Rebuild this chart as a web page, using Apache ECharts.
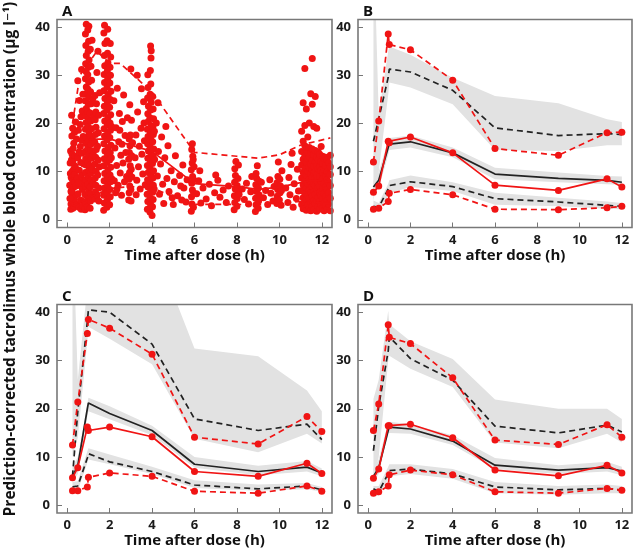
<!DOCTYPE html>
<html><head><meta charset="utf-8">
<script src="https://cdn.jsdelivr.net/npm/echarts@6/dist/echarts.min.js"></script>
<style>html,body{margin:0;padding:0;background:#fff}#c{width:634px;height:555px}</style>
</head><body><div id="c"></div>
<script>
// ---------- data ----------
const xTicks = [0, 2, 4, 6, 8, 10, 12];
const yTicks = [0, 10, 20, 30, 40];
const times = [0.25, 0.5, 0.95, 1.0, 2, 4, 6, 9, 11.3, 12];

// Panel B (observed red / simulated black / CI bands)
const bObsUp  = [12.0, 20.5, 38.6, 36.4, 35.3, 29.0, 14.8, 13.4, 18.1, 18.2];
const bObsMed = [5.7, 7.0, 16.3, 16.0, 17.2, 13.9, 7.2, 6.1, 8.5, 6.8];
const bObsLo  = [2.2, 2.4, 3.8, 5.5, 6.3, 5.2, 2.2, 2.1, 2.5, 2.8];
const bSimUp  = [16.3, 21.0, 29.6, 31.3, 30.7, 26.9, 19.1, 17.5, 17.9, 17.7];
const bSimMed = [6.8, 8.2, 15.0, 15.7, 16.2, 13.9, 9.5, 8.6, 8.2, 7.8];
const bSimLo  = [2.8, 2.6, 6.4, 7.1, 7.9, 6.9, 4.4, 3.7, 3.0, 2.8];
const bUpBandLo  = [4, 10, 26, 28.5, 27.5, 24, 14.5, 14.3, 15.5, 15.5];
const bUpBandHi  = [60, 22, 35, 36, 34.3, 29.5, 25.7, 24.2, 20.9, 20.3];
const bMedBandLo = [5.5, 6.5, 13.5, 14.5, 15, 13, 8.4, 7.8, 7.4, 7.3];
const bMedBandHi = [8, 10, 16.5, 17, 17.5, 15, 10.8, 9.8, 9.1, 9.0];
const bLoBandLo  = [1.8, 1.8, 5, 5.5, 6.8, 6, 3.1, 2.8, 2.3, 2.2];
const bLoBandHi  = [4, 3.5, 7.5, 8.2, 9.2, 7.8, 5.6, 4.6, 3.8, 3.5];

// Panel C
const cObsUp  = [12.5, 21.4, 35.6, 38.5, 36.7, 31.3, 14.1, 12.7, 18.4, 15.3];
const cObsMed = [5.7, 7.8, 16.2, 15.5, 16.2, 14.2, 7.0, 6.0, 8.7, 6.6];
const cObsLo  = [3.0, 3.0, 3.8, 5.8, 6.7, 6.0, 2.9, 2.5, 4.0, 2.9];
const cSimUp  = [6.0, 19.5, 38.0, 40.5, 40.0, 33.4, 17.9, 15.5, 16.8, 13.6];
const cSimMed = [6.0, 8.2, 20.0, 21.2, 19.0, 15.5, 8.5, 7.0, 7.9, 6.7];
const cSimLo  = [3.8, 4.0, 9.8, 10.7, 9.0, 7.0, 4.2, 3.4, 4.0, 3.2];
const cUpBandLo  = [10, 14, 34, 37, 34.5, 29.2, 13.8, 11, 14.8, 12.8];
const cUpBandHi  = [60, 26, 45, 50, 52, 55, 32.5, 30.9, 23.8, 19.5];
const cMedBandLo = [5, 6.5, 18.5, 19.5, 17.8, 14.5, 7.8, 6.2, 7.0, 6.0];
const cMedBandHi = [8, 10, 21, 22.3, 20.5, 16.5, 10, 8.2, 9.2, 7.6];
const cLoBandLo  = [3, 3, 8.8, 9.5, 8.5, 6.5, 3.6, 3, 3.3, 2.8];
const cLoBandHi  = [4.8, 5, 11.2, 11.8, 10.5, 8, 5.2, 4.3, 4.6, 3.8];

// Panel D
const dObsUp  = [15.5, 21.0, 37.4, 34.8, 33.5, 26.4, 13.5, 12.6, 16.7, 14.1];
const dObsMed = [5.6, 7.5, 16.5, 16.5, 16.8, 14.0, 7.3, 6.1, 8.3, 6.7];
const dObsLo  = [2.5, 2.8, 4.0, 6.3, 7.3, 6.3, 2.8, 2.5, 3.5, 3.1];
const dSimUp  = [11.3, 20.5, 32.0, 34.9, 30.4, 25.9, 16.4, 15.0, 16.6, 15.2];
const dSimMed = [6.0, 7.8, 15.5, 16.2, 15.8, 13.3, 8.3, 7.3, 7.8, 7.1];
const dSimLo  = [3.4, 2.8, 6.6, 7.2, 7.5, 6.5, 3.8, 3.2, 3.5, 3.1];
const dUpBandLo  = [5.5, 10, 30, 31, 28.3, 24.5, 13.0, 11.8, 14.8, 13.0];
const dUpBandHi  = [22, 26, 40.3, 37.5, 34, 30.3, 21.9, 20, 20, 17.9];
const dMedBandLo = [5, 6.5, 15, 15, 14.8, 12.5, 7.5, 6.5, 7.0, 6.2];
const dMedBandHi = [7.5, 9.5, 17.3, 17.3, 16.8, 14.5, 9.8, 8.3, 9.0, 8.0];
const dLoBandLo  = [2, 2, 5.5, 6, 6.5, 5.5, 2.5, 2.2, 2.5, 2.5];
const dLoBandHi  = [4, 4, 8, 8.5, 8.5, 7.5, 4.8, 4, 4.3, 4];

// Panel A percentile lines
const aMedT = [1, 2, 3, 4, 6, 8, 9, 10, 11.5, 12.4];
const aMed  = [16.7, 16.8, 15.5, 14.2, 7.5, 6.9, 6.3, 6.8, 8.2, 8.0];
const aUpT  = [0.25, 0.6, 1.4, 2, 2.5, 4, 6, 8, 9, 10, 11, 12.4];
const aUp   = [20, 30, 35, 32.5, 32.5, 26.5, 14, 13.2, 12.8, 13.5, 15.5, 17];
const aLoT  = [0.25, 1, 2, 3, 4, 5, 6, 8, 9, 10, 11, 12.4];
const aLo   = [2.8, 4.5, 6.5, 6.9, 6.6, 4.8, 3.2, 3.2, 3.1, 3.5, 3.8, 3.4];

// Panel A observations [time, conc]
const obsEarly = [[0.12,7.2],[0.14,11.8],[0.15,9.6],[0.16,14.3],[0.17,2.2],[0.18,3.3],[0.19,8.8],[0.2,12.4],[0.2,6.1],[0.21,21.7],[0.22,5.6],[0.23,13.6],[0.24,10.1],[0.25,8.3],[0.26,4.8],[0.27,2.4],[0.28,14.8],[0.29,9.1],[0.3,6.7],[0.3,2.9],[0.31,15.9],[0.32,10.6],[0.33,3.5],[0.34,4.2],[0.35,18.2],[0.36,7.8],[0.37,13.2],[0.38,11.1],[0.4,20.3],[0.42,5.2],[0.44,16.8],[0.13,4.4],[0.22,17.4],[0.27,12.0],[0.35,9.4],[0.41,7.0],[0.18,5.9],[0.26,19.0],
[0.46,3.2],[0.48,8.6],[0.5,12.9],[0.5,28.9],[0.52,5.4],[0.53,18.6],[0.55,2.6],[0.56,14.1],[0.57,10.3],[0.58,24.8],[0.6,7.1],[0.61,19.8],[0.62,15.2],[0.63,4.1],[0.65,21.4],[0.66,2.2],[0.67,9.2],[0.68,31.2],[0.7,13.8],[0.71,22.6],[0.72,6.3],[0.74,26.1],[0.75,17.3],[0.76,8.1],[0.77,3.8],[0.78,11.6],[0.54,7.7],[0.64,11.9],[0.73,2.9],[0.69,16.5]];
const obs1h = [[0.84,2.1],[0.86,3.6],[0.85,5.2],[0.87,6.9],[0.88,8.3],[0.86,9.8],[0.89,11.4],[0.87,12.7],[0.85,14.2],[0.88,15.9],[0.9,17.1],[0.86,18.8],[0.89,20.2],[0.87,21.6],[0.9,23.1],[0.85,24.7],[0.88,26.2],[0.9,27.6],[0.86,29.3],[0.89,30.8],[0.87,32.4],[0.9,34.1],[0.88,36.2],[0.86,38.6],[0.9,40.6],
[0.96,2.7],[0.99,4.3],[1.01,5.8],[0.97,7.4],[1.0,8.9],[1.02,10.3],[0.98,11.9],[1.01,13.4],[0.97,14.9],[1.0,16.4],[1.03,17.9],[0.98,19.4],[1.01,20.9],[0.96,22.5],[1.0,24.0],[1.02,25.4],[0.98,27.1],[1.01,28.6],[0.97,30.1],[1.0,31.7],[1.03,33.2],[0.99,35.0],[1.01,37.1],[0.97,39.4],[1.02,40.2],
[1.08,2.4],[1.1,3.9],[1.12,5.4],[1.09,6.8],[1.13,8.2],[1.11,9.7],[1.08,11.2],[1.14,12.8],[1.1,14.4],[1.12,15.7],[1.09,17.4],[1.15,18.9],[1.11,20.5],[1.08,22.2],[1.13,24.1],[1.1,26.6],[1.15,29.0],[1.12,31.9],[1.09,35.4],[1.2,4.6],[1.22,7.6],[1.18,10.5],[1.23,13.5],[1.19,16.6],[1.24,21.3],[1.21,25.2],[1.17,37.3],
[1.3,4.3],[1.33,5.8],[1.35,7.2],[1.32,8.7],[1.36,10.1],[1.31,11.6],[1.34,13.0],[1.37,14.6],[1.3,16.1],[1.33,17.7],[1.36,19.2],[1.32,20.8],[1.35,22.4],[1.38,24.1],[1.31,25.8],[1.45,35.0],[1.42,5.1],[1.44,9.3],[1.46,12.4],[1.43,15.3],[1.47,18.1],[1.5,6.6],[1.52,11.0],[1.49,3.9],[1.53,26.4],[1.4,30.6],[1.48,21.7]];
const obs2h = [[1.72,2.0],[1.75,3.5],[1.73,5.1],[1.76,6.6],[1.74,8.1],[1.77,9.6],[1.72,11.2],[1.75,12.7],[1.78,14.3],[1.73,15.8],[1.76,17.4],[1.74,18.9],[1.77,20.5],[1.72,22.1],[1.75,23.6],[1.78,25.2],[1.73,26.8],[1.76,28.5],[1.74,30.2],[1.77,32.0],[1.75,34.1],[1.78,36.6],[1.73,38.8],[1.76,40.4],
[1.87,2.6],[1.9,4.2],[1.88,5.7],[1.91,7.3],[1.89,8.8],[1.92,10.4],[1.87,11.9],[1.9,13.5],[1.93,15.0],[1.88,16.6],[1.91,18.1],[1.89,19.7],[1.92,21.2],[1.87,22.8],[1.9,24.4],[1.93,26.0],[1.88,27.6],[1.91,29.3],[1.89,30.9],[1.92,32.6],[1.9,34.6],[1.88,37.2],[1.91,39.6],
[2.0,3.1],[2.03,4.8],[2.01,6.3],[2.04,7.9],[2.02,9.3],[2.05,10.9],[2.0,12.4],[2.03,14.0],[2.06,15.5],[2.01,17.1],[2.04,18.6],[2.02,20.1],[2.05,21.8],[2.0,23.4],[2.03,25.0],[2.06,26.7],[2.01,28.4],[2.04,30.0],[2.02,31.7],[2.05,33.8],[2.03,36.6],[2.08,12.9],[2.09,19.4],[2.1,8.5],
[2.2,24.7],[2.22,8.1],[2.25,14.9],[2.28,5.6],[2.3,19.1],[2.33,11.3],[2.36,27.3],[2.4,7.2],[2.43,16.2],[2.46,22.1],[2.5,9.7],[2.53,13.4],[2.56,5.1],[2.6,20.4],[2.63,11.8],[2.66,25.9],[2.7,7.9],[2.73,17.5],[2.76,14.0],[2.8,9.0],[2.84,21.2],[2.35,6.4],[2.58,15.7],[2.48,18.6],
[2.9,4.1],[2.92,5.6],[2.95,7.0],[2.91,8.4],[2.94,9.8],[2.97,11.2],[2.9,12.6],[2.93,14.0],[2.96,15.4],[2.92,16.8],[2.98,17.6],[3.0,6.3],[3.02,10.5],[3.04,13.3],[3.01,3.9],[3.05,8.9],[2.95,23.9],[3.0,31.3],[3.03,20.7],[3.08,16.0],
[3.2,12.9],[3.24,17.6],[3.28,8.2],[3.32,22.4],[3.36,11.0],[3.4,15.3],[3.44,6.4],[3.48,19.0],[3.52,13.6],[3.56,9.5],[3.6,24.5],[3.64,16.4],[3.68,7.3],[3.3,30.0],[3.5,27.2],[3.62,20.1],[3.25,5.2]];
const obs4h = [[3.78,2.2],[3.8,3.8],[3.77,5.3],[3.81,6.8],[3.79,8.3],[3.82,9.8],[3.78,11.3],[3.8,12.8],[3.83,14.3],[3.79,15.8],[3.81,17.3],[3.78,18.8],[3.82,20.4],[3.8,22.0],[3.83,23.6],[3.79,25.3],[3.81,27.5],[3.8,30.1],
[3.9,1.6],[3.93,3.1],[3.91,4.6],[3.94,6.1],[3.92,7.6],[3.95,9.1],[3.9,10.6],[3.93,12.1],[3.96,13.6],[3.91,15.1],[3.94,16.6],[3.92,18.1],[3.95,19.6],[3.9,21.2],[3.93,22.8],[3.96,24.4],[3.91,26.1],[3.94,28.2],[3.92,31.0],[3.95,33.6],[3.93,36.1],[3.96,35.1],
[4.02,2.7],[4.05,4.2],[4.03,5.7],[4.06,7.2],[4.04,8.7],[4.07,10.2],[4.02,11.7],[4.05,13.2],[4.08,14.7],[4.03,16.2],[4.06,17.7],[4.04,19.3],[4.07,21.0],[4.05,23.0],[4.03,25.6],[4.0,0.9],[4.1,6.4],[4.12,12.5],[4.11,18.4],
[4.2,20.1],[4.25,9.1],[4.3,14.2],[4.35,5.3],[4.4,11.6],[4.45,17.2],[4.5,7.4],[4.55,3.4],[4.6,12.9],[4.7,8.6],[4.75,15.4],[4.8,5.9],[4.9,10.2],[5.0,3.2],[5.05,7.9],[5.1,13.3],[5.2,5.0],[5.3,9.2],[5.4,4.1],[5.45,11.4],[5.5,6.6],[5.6,3.7],[5.65,8.3],[4.28,24.3],[4.65,19.4],[4.95,4.6],[5.35,7.0]];
const obsLate = [[5.85,1.8],[5.88,3.3],[5.86,4.8],[5.9,6.2],[5.87,7.6],[5.91,9.0],[5.85,10.4],[5.89,11.8],[5.92,13.2],[5.87,14.6],[5.9,15.8],[5.95,2.6],[5.97,5.5],[5.96,8.3],[5.98,11.0],[5.94,12.5],
[6.1,5.4],[6.2,8.1],[6.3,3.5],[6.4,6.6],[6.55,4.3],[6.7,7.4],[6.8,2.9],[6.95,5.6],[7.1,8.2],[7.2,4.7],[7.35,6.2],[7.5,3.6],[7.6,7.0],[6.25,10.2],[7.0,9.3],
[7.87,2.1],[7.9,3.6],[7.88,5.0],[7.92,6.4],[7.89,7.8],[7.93,9.2],[7.9,10.6],[7.95,12.1],[8.0,2.8],[8.02,4.4],[8.04,6.0],[8.01,7.1],[8.05,8.6],[8.07,11.4],[8.1,5.3],
[8.25,6.4],[8.35,4.2],[8.45,7.6],[8.55,3.3],[8.65,5.8],[8.7,9.0],
[8.87,1.7],[8.9,3.1],[8.88,4.5],[8.92,5.9],[8.89,7.3],[8.93,8.6],[8.9,9.6],[9.0,2.4],[9.02,3.9],[9.04,5.2],[9.01,6.6],[9.05,8.0],[8.96,11.2],
[9.15,7.8],[9.25,4.6],[9.35,6.1],[9.45,3.2],[9.55,8.3],[9.6,5.5],[9.7,3.9],[9.75,6.9],
[9.88,3.4],[9.9,4.9],[9.92,6.3],[9.89,7.7],[9.93,9.0],[10.0,4.1],[10.03,5.6],[10.05,7.0],[10.02,8.4],[10.08,3.0],[10.1,6.1],[10.12,10.2],[9.95,12.0],
[10.3,6.6],[10.4,3.6],[10.45,8.8],[10.5,5.2],[10.6,13.8],[10.65,2.6],[10.7,7.5],[10.8,4.4],[10.85,10.5],[10.9,6.0],[10.55,11.5]];
// trough cluster 11-12.4 h: [time, [concentrations]]
const obsTrough = [
 [11.05,[3.2,6.1,8.7,11.4,14.2,18.4]],
 [11.12,[2.3,4.6,7.3,9.9,12.6,16.3,24.3]],
 [11.2,[3.7,5.5,8.1,10.7,13.3,15.4,19.6,31.4]],
 [11.27,[2.0,4.2,6.6,9.2,11.9,14.6,23.0]],
 [11.34,[3.0,5.0,7.5,10.1,12.7,13.9,17.2]],
 [11.41,[2.5,4.4,6.2,8.4,10.9,13.1,15.0,20.1]],
 [11.48,[1.9,3.6,5.7,7.9,9.5,11.6,14.0,26.2]],
 [11.55,[2.8,4.9,6.9,8.8,10.4,12.3,14.7,24.0,33.5]],
 [11.62,[2.1,3.9,5.9,7.4,9.7,11.1,13.5,19.4]],
 [11.69,[3.4,5.3,7.1,8.6,10.0,12.0,14.4,25.6]],
 [11.76,[1.8,4.0,6.4,8.2,9.3,11.3,13.0,19.0]],
 [11.83,[2.7,4.7,6.7,7.7,10.6,12.4,14.1]],
 [11.9,[2.2,3.8,5.6,7.0,9.0,11.0,13.6]],
 [11.97,[3.1,5.0,6.0,8.0,10.3,12.1,15.2]],
 [12.04,[2.4,4.3,6.5,8.5,9.8,11.7,13.2]],
 [12.11,[1.9,3.5,5.4,7.6,10.5,12.8]],
 [12.18,[2.9,4.8,6.8,9.1,11.2,13.0]],
 [12.25,[2.2,4.1,6.3,8.3,10.0,12.5]],
 [12.32,[3.3,5.6,7.8,9.6,11.8]],
 [12.4,[1.9,4.5,7.1,9.4,11.0,13.4]]
];

// ---------- chart ----------
const FONT = '"Open Sans", "DejaVu Sans", sans-serif';
const RED = '#f01414';
const BLACK = '#222222';
const BAND = '#e2e2e2';
const boxes = [
  {left:57, top:19.5, width:275, height:208},
  {left:358, top:19.5, width:274, height:208},
  {left:57, top:304.5, width:275, height:208.5},
  {left:358, top:304.5, width:274, height:208.5}
];

const obsAll = obsEarly.concat(obs1h, obs2h, obs4h, obsLate);
obsTrough.forEach(([t, vs]) => vs.forEach(v => obsAll.push([t, v])));

function xAx(i) {
  return {gridIndex:i, type:'value', min:-0.48, max:12.48,
    axisLine:{show:false, onZero:false},
    axisTick:{show:true, inside:true, length:5, customValues:xTicks, lineStyle:{color:'#777', width:1}},
    axisLabel:{customValues:xTicks, color:'#1a1a1a', fontWeight:'bold', fontSize:13, fontFamily:FONT, margin:6},
    splitLine:{show:false}};
}
function yAx(i) {
  return {gridIndex:i, type:'value', min:-1.6, max:41.6,
    axisLine:{show:false, onZero:false},
    axisTick:{show:true, inside:true, length:5, customValues:yTicks, lineStyle:{color:'#777', width:1}},
    axisLabel:{customValues:yTicks, color:'#1a1a1a', fontWeight:'bold', fontSize:13, fontFamily:FONT, margin:7},
    splitLine:{show:false}};
}
function band(gi, lo, hi) {
  return {type:'custom', xAxisIndex:gi, yAxisIndex:gi, silent:true, clip:true, z:1,
    data:[[times[0], lo[0]]],
    renderItem(params, api) {
      const pts = [];
      for (let k = 0; k < times.length; k++) pts.push(api.coord([times[k], hi[k]]));
      for (let k = times.length - 1; k >= 0; k--) pts.push(api.coord([times[k], lo[k]]));
      const cs = params.coordSys;
      return {type:'polygon', shape:{points:pts}, style:{fill:BAND},
        clipPath:{type:'rect', shape:{x:cs.x, y:cs.y, width:cs.width, height:cs.height}}};
    }};
}
function line(gi, ts, vals, color, dashed, sym, z) {
  return {type:'line', xAxisIndex:gi, yAxisIndex:gi, silent:true, z:z,
    data: ts.map((t, k) => [t, vals[k]]),
    symbol:'circle', symbolSize:7, showSymbol:sym,
    itemStyle:{color:color, opacity:1}, lineStyle:{color:color, width:1.7, type: dashed ? [6,4] : 'solid'}};
}
function vpc(gi, bands, sim, obs) {
  const s = [];
  bands.forEach(b => s.push(band(gi, b[0], b[1])));
  s.push(line(gi, times, sim[0], BLACK, true, false, 3));
  s.push(line(gi, times, sim[1], BLACK, false, false, 3));
  s.push(line(gi, times, sim[2], BLACK, true, false, 3));
  s.push(line(gi, times, obs[0], RED, true, true, 4));
  s.push(line(gi, times, obs[1], RED, false, true, 4));
  s.push(line(gi, times, obs[2], RED, true, true, 4));
  return s;
}

const series = [
  {type:'scatter', xAxisIndex:0, yAxisIndex:0, data:obsAll, symbolSize:7, itemStyle:{color:RED, opacity:1}, silent:true, z:2},
  line(0, aUpT, aUp, RED, true, false, 3),
  line(0, aMedT, aMed, RED, false, false, 3),
  line(0, aLoT, aLo, RED, true, false, 3)
].concat(
  vpc(1, [[bUpBandLo,bUpBandHi],[bMedBandLo,bMedBandHi],[bLoBandLo,bLoBandHi]], [bSimUp,bSimMed,bSimLo], [bObsUp,bObsMed,bObsLo]),
  vpc(2, [[cUpBandLo,cUpBandHi],[cMedBandLo,cMedBandHi],[cLoBandLo,cLoBandHi]], [cSimUp,cSimMed,cSimLo], [cObsUp,cObsMed,cObsLo]),
  vpc(3, [[dUpBandLo,dUpBandHi],[dMedBandLo,dMedBandHi],[dLoBandLo,dLoBandHi]], [dSimUp,dSimMed,dSimLo], [dObsUp,dObsMed,dObsLo])
);

const letters = ['A','B','C','D'];
const graphics = [];
boxes.forEach((b, i) => {
  graphics.push({type:'rect', z:100, silent:true, shape:{x:b.left, y:b.top, width:b.width, height:b.height},
    style:{fill:'none', stroke:'#787878', lineWidth:1.6}});
  graphics.push({type:'text', z:100, silent:true, x:b.left + 5, y:b.top - 8,
    style:{text:letters[i], fontSize:15, fontWeight:'bold', fontFamily:FONT, fill:'#111',
      textAlign:'left', textVerticalAlign:'middle', align:'left', verticalAlign:'middle'}});
  graphics.push({type:'text', z:100, silent:true, x:b.left + b.width / 2, y:b.top + b.height + 28,
    style:{text:'Time after dose (h)', fontSize:15, fontWeight:'bold', fontFamily:FONT, fill:'#111',
      textAlign:'center', textVerticalAlign:'middle', align:'center', verticalAlign:'middle'}});
});
graphics.push({type:'text', z:100, silent:true, x:11, y:259, rotation:Math.PI / 2,
  style:{text:'Prediction-corrected tacrolimus whole blood concentration (\u03bcg l\u207b\u00b9)', fontSize:15.5, fontWeight:'bold', fontFamily:FONT, fill:'#111',
    textAlign:'center', textVerticalAlign:'middle', align:'center', verticalAlign:'middle'}});

const chart = echarts.init(document.getElementById('c'), null, {renderer:'canvas'});
chart.setOption({
  animation:false,
  backgroundColor:'#fff',
  grid: boxes.map(b => Object.assign({show:false, containLabel:false}, b)),
  xAxis: [0,1,2,3].map(xAx),
  yAxis: [0,1,2,3].map(yAx),
  series: series,
  graphic: graphics
});
</script></body></html>
